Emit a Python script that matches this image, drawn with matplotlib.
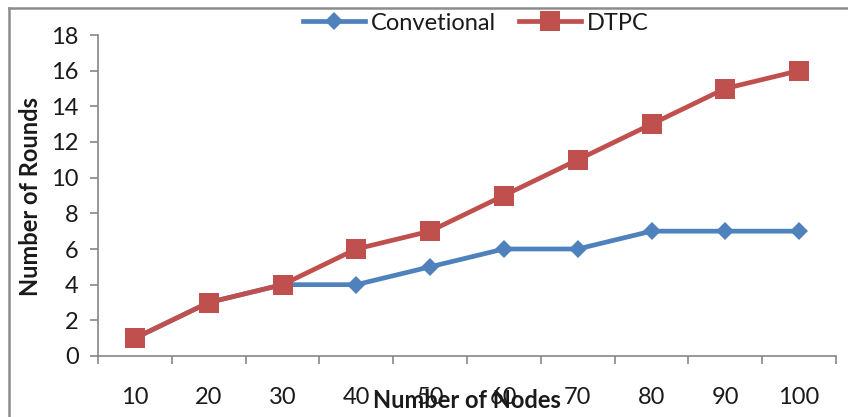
import matplotlib
matplotlib.use("Agg")
import matplotlib.pyplot as plt
from matplotlib.lines import Line2D
from matplotlib.ticker import FixedLocator, NullFormatter

# Data
nodes = [10, 20, 30, 40, 50, 60, 70, 80, 90, 100]
conventional = [1, 3, 4, 4, 5, 6, 6, 7, 7, 7]
dtpc = [1, 3, 4, 6, 7, 9, 11, 13, 15, 16]
y_ticks = [0, 2, 4, 6, 8, 10, 12, 14, 16, 18]

BLUE = "#4F81BD"
RED = "#C0504D"
AXIS_GRAY = "#868686"
TEXT = "#1a1a1a"
FONT = "Lato"
FS = 17

plt.rcParams["font.family"] = [FONT, "DejaVu Sans"]

W, H = 848, 417
fig = plt.figure(figsize=(W / 100, H / 100), dpi=100)
ax = fig.add_axes([98 / W, 1 - 356 / H, (836 - 98) / W, (356 - 35) / H])

x = list(range(len(nodes)))
ax.plot(x, conventional, color=BLUE, lw=3.4, marker="D", ms=9.5,
        markeredgewidth=0, label="Convetional", zorder=3)
ax.plot(x, dtpc, color=RED, lw=3.4, marker="s", ms=14.5,
        markeredgewidth=0, label="DTPC", zorder=4)

ax.set_xlim(-0.5, len(nodes) - 0.5)
ax.set_ylim(0, 18)
ax.set_yticks(y_ticks)
ax.set_xticks(x)
ax.set_xticklabels([str(n) for n in nodes])
ax.xaxis.set_minor_locator(FixedLocator([i - 0.5 for i in range(len(nodes) + 1)]))
ax.xaxis.set_minor_formatter(NullFormatter())

ax.tick_params(axis="x", which="major", length=0, pad=22, labelsize=FS,
               labelcolor=TEXT)
ax.tick_params(axis="x", which="minor", length=6, width=1.2, color=AXIS_GRAY,
               direction="out")
ax.tick_params(axis="y", length=6, width=1.2, color=AXIS_GRAY, direction="out",
               pad=8, labelsize=FS, labelcolor=TEXT)

for side in ("top", "right"):
    ax.spines[side].set_visible(False)
for side in ("left", "bottom"):
    ax.spines[side].set_color(AXIS_GRAY)
    ax.spines[side].set_linewidth(1.2)

fig.text(467 / W, 1 - 401 / H, "Number of Nodes", ha="center", va="center",
         fontsize=FS, fontweight="bold", color=TEXT)
fig.text(31 / W, 1 - 196 / H, "Number of Rounds", ha="center", va="center",
         rotation=90, fontsize=FS, fontweight="bold", color=TEXT)

leg = fig.legend(loc="center", bbox_to_anchor=(476 / W, 1 - 23 / H),
                 ncol=2, frameon=False, fontsize=FS, handlelength=2.6,
                 handletextpad=0.25, columnspacing=1.0, borderaxespad=0)
for t in leg.get_texts():
    t.set_color(TEXT)

# Outer chart frame (top and left edges)
fig.add_artist(Line2D([9 / W, 1.0], [1 - 8 / H, 1 - 8 / H], color="#8c8c8c",
                      lw=1.8, transform=fig.transFigure))
fig.add_artist(Line2D([9 / W, 9 / W], [0, 1 - 8 / H], color="#8c8c8c",
                      lw=1.8, transform=fig.transFigure))

fig.savefig("out.png", dpi=100)
